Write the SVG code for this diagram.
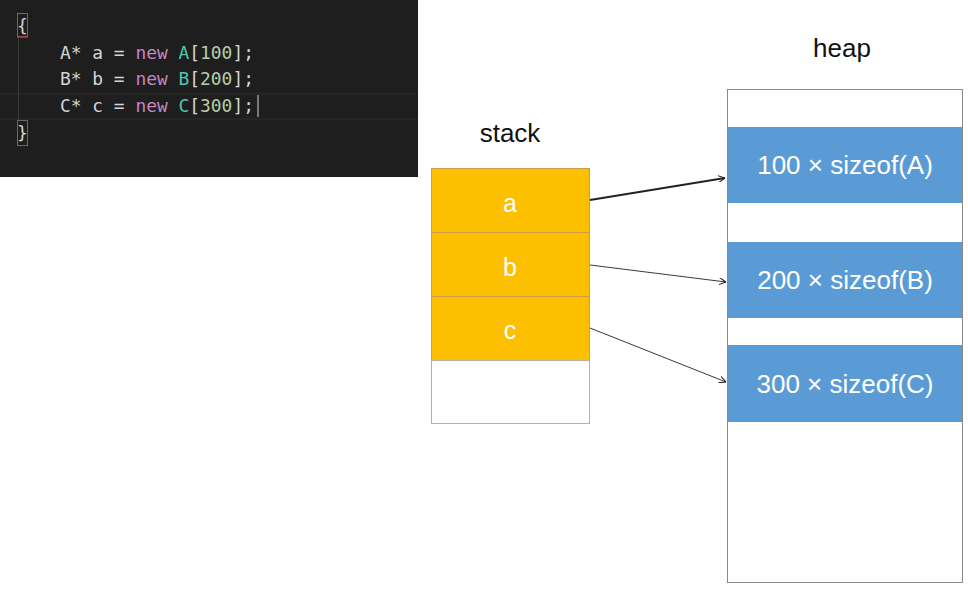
<svg xmlns="http://www.w3.org/2000/svg" width="968" height="590" viewBox="0 0 968 590">
<defs>
<style>
.code{font-family:"DejaVu Sans Mono","Liberation Mono",monospace;font-size:17.9px;fill:#d4d4d4;}
.kw{fill:#c586c0;}
.ty{fill:#4ec9b0;}
.num{fill:#b5cea8;}
.title{font-family:"Liberation Sans",Arial,sans-serif;font-size:26px;fill:#111;text-anchor:middle;}
.cell{fill:#fdc000;stroke:#c9a040;stroke-width:1;}
.lbl{font-family:"Liberation Sans",Arial,sans-serif;font-size:25px;fill:#fff;text-anchor:middle;}
.hl{font-size:26px;}
.blk{fill:#5b9bd5;}
.conn{stroke:#222;fill:none;}
</style>
<marker id="ah" viewBox="0 0 10 10" refX="10" refY="5" markerWidth="7" markerHeight="7" orient="auto" markerUnits="userSpaceOnUse">
<path d="M0,0 L10,5 L0,10" fill="none" stroke="#222" stroke-width="1.5"/>
</marker>
</defs>
<rect width="968" height="590" fill="#fff"/>

<g id="code">
<rect x="0" y="0" width="418" height="177" fill="#1e1e1e"/>
<line x1="0" y1="94" x2="418" y2="94" stroke="#2c2c2c"/>
<line x1="0" y1="119" x2="418" y2="119" stroke="#2c2c2c"/>
<line x1="18.5" y1="38" x2="18.5" y2="120" stroke="#3a3a3a"/>
<rect x="17.5" y="13.5" width="10" height="23" fill="none" stroke="#6a6a6a"/>
<line x1="17" y1="37" x2="28" y2="37" stroke="#b04040" stroke-width="1.5"/>
<rect x="17.5" y="120.5" width="10" height="25" fill="none" stroke="#6a6a6a"/>
<text class="code" x="17" y="32">{</text>
<text class="code" x="60" y="59">A* a = <tspan class="kw">new</tspan> <tspan class="ty">A</tspan>[<tspan class="num">100</tspan>];</text>
<text class="code" x="60" y="85">B* b = <tspan class="kw">new</tspan> <tspan class="ty">B</tspan>[<tspan class="num">200</tspan>];</text>
<text class="code" x="60" y="112">C* c = <tspan class="kw">new</tspan> <tspan class="ty">C</tspan>[<tspan class="num">300</tspan>];</text>
<line x1="258" y1="95" x2="258" y2="117" stroke="#d4d4d4" stroke-width="1"/>
<text class="code" x="17" y="139">}</text>
</g>

<g id="stack">
<text class="title" x="510" y="142">stack</text>
<rect class="cell" x="431.5" y="168.5" width="158" height="64"/>
<text class="lbl" x="510" y="212">a</text>
<rect class="cell" x="431.5" y="232.5" width="158" height="64"/>
<text class="lbl" x="510" y="276">b</text>
<rect class="cell" x="431.5" y="296.5" width="158" height="64"/>
<text class="lbl" x="510" y="339">c</text>
<rect x="431.5" y="360.5" width="158" height="63" fill="#fff" stroke="#b8b0a0"/>
</g>

<g id="heap">
<text class="title" x="842" y="57">heap</text>
<rect x="727.5" y="89.5" width="235" height="493" fill="#fff" stroke="#8a8a8a"/>
<g id="blockA">
<rect class="blk" x="728" y="127" width="234" height="76"/>
<text class="lbl hl" x="845" y="174">100 × sizeof(A)</text>
</g>
<g id="blockB">
<rect class="blk" x="728" y="242" width="234" height="76"/>
<text class="lbl hl" x="845" y="289">200 × sizeof(B)</text>
</g>
<g id="blockC">
<rect class="blk" x="728" y="345" width="234" height="77"/>
<text class="lbl hl" x="845" y="393">300 × sizeof(C)</text>
</g>
</g>

<g id="connectors">
<line class="conn" x1="590" y1="200" x2="725" y2="178" stroke-width="1.8" marker-end="url(#ah)"/>
<line class="conn" x1="590" y1="265" x2="726" y2="282" stroke-width="0.9" marker-end="url(#ah)"/>
<line class="conn" x1="590" y1="328" x2="726" y2="382" stroke-width="0.9" marker-end="url(#ah)"/>
</g>
</svg>
